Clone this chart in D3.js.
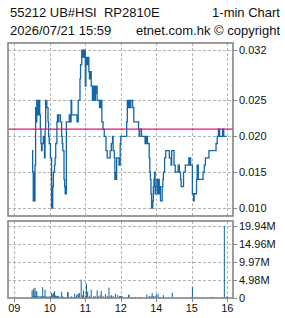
<!DOCTYPE html>
<html>
<head>
<meta charset="utf-8">
<script src="https://cdn.jsdelivr.net/npm/d3@7"></script>
<style>
  body { margin: 0; background: #fff; }
  svg { display: block; }
  .title { font-family: "Liberation Sans", Arial, sans-serif; font-size: 13px; fill: #111; white-space: pre; }
  .ax { font-family: "Liberation Sans", Arial, sans-serif; font-size: 11px; fill: #111; }
</style>
</head>
<body>
<div id="chart"></div>
<script>
// 1-min price steps (time of change, price in HKD)
var priceTimes = ['09:30','09:31','09:32','09:33','09:34','09:35','09:36','09:37','09:38','09:39',
    '09:40','09:41','09:42','09:43','09:44','09:45','09:46','09:47','09:49','09:51',
    '09:52','09:53','09:55','09:57','09:58','09:59','10:01','10:03','10:05','10:06',
    '10:08','10:09','10:10','10:12','10:13','10:14','10:15','10:18','10:20','10:21',
    '10:22','10:24','10:25','10:26','10:28','10:31','10:33','10:35','10:36','10:37',
    '10:46','10:48','10:51','10:52','10:54','10:55','10:56','10:58','10:59','11:00',
    '11:01','11:02','11:03','11:05','11:06','11:07','11:08','11:10','11:12','11:14',
    '11:16','11:17','11:18','11:20','11:24','11:26','11:28','11:30','11:32','11:35',
    '11:37','11:42','11:44','11:46','11:47','11:49','11:50','11:51','11:52','11:53',
    '11:57','11:58','11:59','13:00','13:10','13:11','13:13','13:14','13:16','13:17',
    '13:20','13:22','13:30','13:31','13:32','13:35','13:41','13:43','13:45','13:48',
    '13:49','13:50','13:51','13:52','13:54','13:55','13:56','13:57','13:58','13:59',
    '14:01','14:02','14:03','14:04','14:05','14:06','14:07','14:10','14:11','14:12',
    '14:14','14:16','14:19','14:22','14:25','14:26','14:30','14:32','14:37','14:39',
    '14:41','14:42','14:46','14:49','14:55','14:56','14:57','14:58','15:01','15:03',
    '15:04','15:08','15:09','15:11','15:19','15:21','15:23','15:29','15:41','15:43',
    '15:45','15:47','15:52','15:54','15:59'];
var prices = [0.018,0.015,0.011,0.015,0.011,0.016,0.024,0.022,0.025,0.023,
    0.025,0.023,0.025,0.023,0.021,0.019,0.018,0.019,0.020,0.017,
    0.021,0.025,0.024,0.022,0.020,0.019,0.017,0.010,0.013,0.015,
    0.016,0.017,0.019,0.022,0.023,0.022,0.023,0.022,0.020,0.019,
    0.018,0.014,0.013,0.012,0.022,0.022,0.023,0.022,0.025,0.023,
    0.022,0.025,0.028,0.030,0.032,0.031,0.032,0.031,0.032,0.027,
    0.030,0.031,0.030,0.031,0.029,0.028,0.029,0.027,0.025,0.027,
    0.025,0.026,0.027,0.025,0.024,0.025,0.022,0.021,0.020,0.018,
    0.017,0.018,0.019,0.020,0.018,0.017,0.014,0.015,0.014,0.017,
    0.016,0.016,0.019,0.020,0.022,0.025,0.024,0.025,0.024,0.025,
    0.024,0.022,0.021,0.020,0.021,0.020,0.019,0.020,0.019,0.017,
    0.015,0.014,0.012,0.010,0.011,0.013,0.014,0.015,0.012,0.013,
    0.014,0.012,0.013,0.014,0.012,0.013,0.011,0.013,0.014,0.015,
    0.017,0.018,0.018,0.017,0.016,0.018,0.016,0.015,0.016,0.015,
    0.014,0.013,0.015,0.016,0.017,0.016,0.017,0.016,0.012,0.011,
    0.012,0.014,0.016,0.014,0.015,0.016,0.017,0.018,0.019,0.020,
    0.021,0.020,0.021,0.020,0.020];
var prevClose = 0.021;

// 1-min turnover volume (millions)
var volTimes = ['09:30','09:31','09:32','09:33','09:34','09:35','09:36','09:37','09:38','09:39',
    '09:40','09:41','09:42','09:43','09:44','09:45','09:46','09:47','09:48','09:49',
    '09:50','09:51','09:52','09:53','09:54','09:55','09:56','09:57','09:58','09:59',
    '10:00','10:01','10:03','10:04','10:06','10:07','10:08','10:09','10:10','10:11',
    '10:13','10:15','10:17','10:20','10:22','10:25','10:30','10:31','10:36','10:39',
    '10:42','10:45','10:46','10:48','10:50','10:53','10:55','10:57','11:00','11:02',
    '11:04','11:07','11:10','11:14','11:17','11:20','11:22','11:25','11:27','11:30',
    '11:34','11:37','11:40','11:42','11:44','11:47','11:51','11:55','11:58','11:59',
    '13:00','13:01','13:02','13:13','13:14','13:18','13:24','13:32','13:44','13:48',
    '13:51','13:53','13:55','13:58','14:00','14:03','14:06','14:12','14:27','15:00',
    '15:01','15:07','15:31','15:36','15:55','15:59'];
var volumes = [2.1,0.4,2.3,2.6,0.4,2.8,0.5,1.9,1.8,0.4,
    0.5,0.4,0.3,0.4,0.4,0.3,0.5,0.3,3.0,0.4,
    0.5,0.3,2.3,0.4,0.3,0.4,0.3,0.4,0.3,0.4,
    0.3,0.4,1.4,1.0,1.4,0.5,1.9,0.8,0.5,0.6,
    0.6,0.5,0.4,1.75,0.5,0.3,1.6,1.6,0.5,0.3,
    1.2,0.6,1.0,1.2,1.4,5.1,0.8,2.1,0.7,4.0,
    1.75,0.6,2.3,0.5,0.5,2.1,0.5,0.8,1.9,0.5,
    1.0,0.6,2.9,0.5,0.8,0.6,1.2,0.8,0.5,0.5,
    0.5,0.5,0.5,0.8,1.0,0.3,0.3,0.3,1.0,0.6,
    0.5,1.4,0.6,0.5,1.0,1.2,0.3,0.8,1.4,0.3,
    3.0,0.3,0.3,0.3,19.94,0.4];

var timeTicks = ['09:00','10:00','11:00','12:00','14:00','15:00','16:00'];
var timeLabels = ['09','10','11','12','14','15','16'];
var priceTicks = [0.010, 0.015, 0.020, 0.025, 0.032];
var volTicks = [0, 4.985, 9.97, 14.955, 19.94];
var volLabels = ['0','4.98M','9.97M','14.96M','19.94M'];

// trading minutes since 09:00, lunch (12:00-13:00) removed
function toMin(s) {
    var p = s.split(':');
    var m = (+p[0]) * 60 + (+p[1]) - 540;
    if (m >= 240) m -= 60;
    return m;
}

var width = 285, height = 318;
var left = 8, right = 233;
var blue = '#1466a6';

var svg = d3.select('#chart').append('svg')
    .attr('width', width)
    .attr('height', height);

var x = d3.scaleLinear().domain([0, 360]).range([14.3, 227.3]);
var yP = d3.scaleLinear().domain([0.0089, 0.033]).range([216, 43]);
var yV = d3.scaleLinear().domain([0, 19.94 * 77 / 72]).range([298, 221]);

// titles
svg.append('text').attr('class', 'title').attr('x', 10).attr('y', 16.5).text('55212 UB#HSI  RP2810E');
svg.append('text').attr('class', 'title').attr('x', 280).attr('y', 16.5).attr('text-anchor', 'end').text('1-min Chart');
svg.append('text').attr('class', 'title').attr('x', 10).attr('y', 35).text('2026/07/21 15:59');
svg.append('text').attr('class', 'title').attr('x', 280).attr('y', 35).attr('text-anchor', 'end').text('etnet.com.hk \u00a9 copyright');

function panel(top, bottom, yScale, ticks, labels) {
    var g = svg.append('g');
    g.selectAll('.hg').data(ticks.filter(function (d) { return d > 0; })).enter()
        .append('line')
        .attr('x1', left).attr('x2', right)
        .attr('y1', function (d) { return Math.round(yScale(d)) + 0.5; })
        .attr('y2', function (d) { return Math.round(yScale(d)) + 0.5; })
        .attr('stroke', '#b4b4b4').attr('stroke-dasharray', '3,2');
    g.selectAll('.vg').data(timeTicks).enter()
        .append('line')
        .attr('x1', function (d) { return Math.round(x(toMin(d))) + 0.5; })
        .attr('x2', function (d) { return Math.round(x(toMin(d))) + 0.5; })
        .attr('y1', top).attr('y2', bottom)
        .attr('stroke', '#b4b4b4').attr('stroke-dasharray', '3,2');
    // right ticks and labels
    g.selectAll('.tk').data(ticks).enter()
        .append('line')
        .attr('x1', right).attr('x2', right + 4)
        .attr('y1', function (d) { return Math.round(yScale(d)) + 0.5; })
        .attr('y2', function (d) { return Math.round(yScale(d)) + 0.5; })
        .attr('stroke', '#888');
    g.selectAll('.lb').data(ticks).enter()
        .append('text')
        .attr('class', 'ax')
        .attr('x', right + 6)
        .attr('y', function (d) { return yScale(d); })
        .attr('dy', '0.36em')
        .text(function (d, i) { return labels[i]; });
    return g;
}

panel(43, 216, yP, priceTicks, priceTicks.map(function (d) { return d.toFixed(3); }));
panel(221, 298, yV, volTicks, volLabels);

// price step line
var pts = priceTimes.map(function (t, i) { return [toMin(t), prices[i]]; });
var line = d3.line()
    .x(function (d) { return x(d[0]); })
    .y(function (d) { return yP(d[1]); })
    .curve(d3.curveStepAfter);
svg.append('path')
    .datum(pts)
    .attr('d', line)
    .attr('fill', 'none')
    .attr('stroke', blue)
    .attr('stroke-width', 1.3);

// previous close
svg.append('line')
    .attr('x1', left).attr('x2', right)
    .attr('y1', yP(prevClose)).attr('y2', yP(prevClose))
    .attr('stroke', '#e0137a').attr('stroke-width', 1.2);

// volume bars
svg.selectAll('.bar').data(volTimes).enter()
    .append('rect')
    .attr('x', function (d) { return x(toMin(d)) - 0.5; })
    .attr('width', 1)
    .attr('y', function (d, i) { return yV(volumes[i]); })
    .attr('height', function (d, i) { return yV(0) - yV(volumes[i]); })
    .attr('fill', blue);

// x axis ticks and labels
svg.selectAll('.xt').data(timeTicks).enter()
    .append('line')
    .attr('x1', function (d) { return Math.round(x(toMin(d))) + 0.5; })
    .attr('x2', function (d) { return Math.round(x(toMin(d))) + 0.5; })
    .attr('y1', 298).attr('y2', 302)
    .attr('stroke', '#888');
svg.selectAll('.xl').data(timeTicks).enter()
    .append('text')
    .attr('class', 'ax')
    .attr('x', function (d) { return x(toMin(d)); })
    .attr('y', 312)
    .attr('text-anchor', 'middle')
    .text(function (d, i) { return timeLabels[i]; });

// panel frames
[[43, 216], [221, 298]].forEach(function (b) {
    svg.append('rect')
        .attr('x', left).attr('y', b[0])
        .attr('width', right - left).attr('height', b[1] - b[0])
        .attr('fill', 'none')
        .attr('stroke', '#848484')
        .attr('stroke-width', 1.6);
});
</script>
</body>
</html>
